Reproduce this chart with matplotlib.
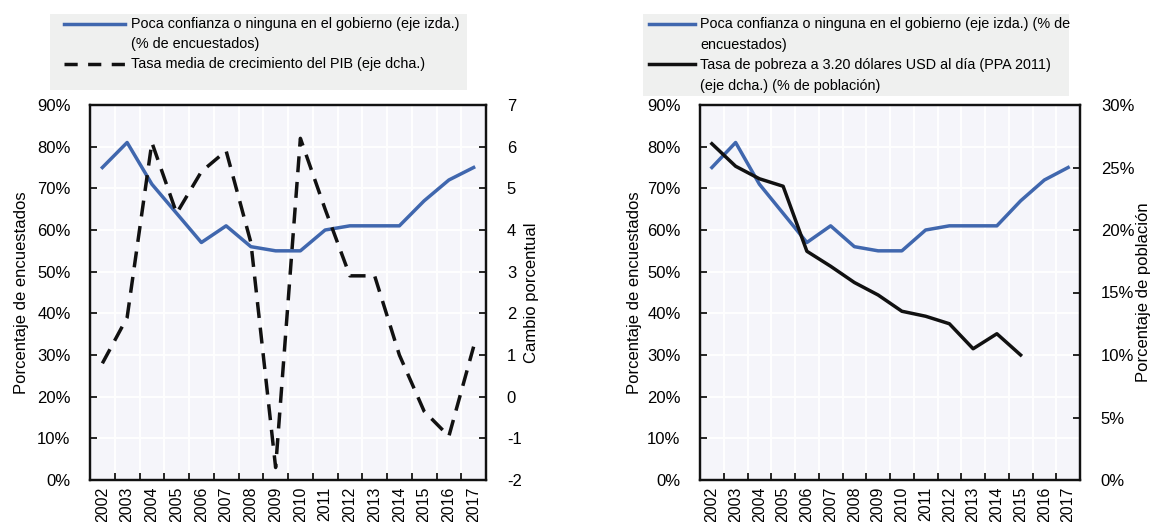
import numpy as np
import matplotlib
matplotlib.use("Agg")
import matplotlib.pyplot as plt
from matplotlib.lines import Line2D
from matplotlib.patches import Rectangle

years = [str(y) for y in range(2002, 2018)]
confianza = [75, 81, 71, 64, 57, 61, 56, 55, 55, 60, 61, 61, 61, 67, 72, 75]
pib = [0.8, 1.9, 6.1, 4.4, 5.4, 5.9, 3.7, -1.7, 6.2, 4.5, 2.9, 2.9, 1.0, -0.35, -0.95, 1.2]
pobreza = [26.9, 25.1, 24.1, 23.5, 18.3, 17.1, 15.8, 14.8, 13.5, 13.1, 12.5, 10.5, 11.7, 10.0]

left_ticks = [0, 10, 20, 30, 40, 50, 60, 70, 80, 90]
pib_ticks = [-2, -1, 0, 1, 2, 3, 4, 5, 6, 7]
pob_ticks = [0, 5, 10, 15, 20, 25, 30]

lbl_conf = "Poca confianza o ninguna en el gobierno (eje izda.)"
lbl_pib = "Tasa media de crecimiento del PIB (eje dcha.)"

plt.rcParams['font.family'] = ['Liberation Sans', 'DejaVu Sans']
plt.rcParams['font.size'] = 12
plt.rcParams['axes.unicode_minus'] = False

BLUE = '#4067AE'
BG = '#F5F5FA'
LEG = '#EFF0EF'
W, H = 1152, 522
LEGFS = 10.4
DASH = (4.6, 2.8)

fig = plt.figure(figsize=(W / 100, H / 100), dpi=100)


def fx(px):
    return px / W


def fy(py):
    return 1 - py / H


def setup(ax, ax2):
    x = np.arange(len(years))
    ax.set_facecolor(BG)
    ax.set_xlim(-0.5, len(years) - 0.5)
    ax.set_xticks(x)
    ax.set_xticklabels(years, rotation=90, fontsize=11.5)
    ax.set_xticks(x[:-1] + 0.5, minor=True)
    ax.tick_params(axis='x', which='major', length=0, pad=5)
    ax.tick_params(axis='x', which='minor', length=5, width=1.2, direction='in')
    ax.grid(True, which='minor', axis='x', color='white', lw=1.3)
    ax.grid(True, which='major', axis='y', color='white', lw=1.3)
    ax.set_axisbelow(True)
    ax.tick_params(axis='y', length=5, width=1.2, direction='in', pad=14)
    ax2.tick_params(axis='y', length=5, width=1.2, direction='in', pad=15)
    for a in (ax, ax2):
        for s in a.spines.values():
            s.set_linewidth(1.6)
            s.set_color('#111111')


def legend_box(x0, y0, x1, y1):
    fig.add_artist(Rectangle((fx(x0), fy(y1)), fx(x1 - x0), (y1 - y0) / H,
                             transform=fig.transFigure, facecolor=LEG, edgecolor='none'))


def legtext(px, py, s):
    fig.text(fx(px), fy(py), s, va='center', ha='left', fontsize=LEGFS)


# ---- left chart
ax = fig.add_axes([fx(90), fy(480), fx(396), 375 / H])
ax2 = ax.twinx()
setup(ax, ax2)
x = np.arange(len(years))
ax.plot(x, confianza, color=BLUE, lw=2.5)
ax2.plot(x, pib, color='#111111', lw=2.5, dashes=DASH)
ax.set_ylim(0, 90)
ax.set_yticks(left_ticks)
ax.set_yticklabels([f"{v}%" for v in left_ticks])
ax2.set_ylim(-2, 7)
ax2.set_yticks(pib_ticks)
ax.set_ylabel("Porcentaje de encuestados", labelpad=6)
ax2.set_ylabel("Cambio porcentual", labelpad=2)

legend_box(50, 14, 467, 90)
fig.add_artist(Line2D([fx(64), fx(125)], [fy(24), fy(24)], color=BLUE, lw=2.5, transform=fig.transFigure))
fig.add_artist(Line2D([fx(64), fx(125)], [fy(64), fy(64)], color='#111111', lw=2.5,
                      dashes=(3.8, 3.0), transform=fig.transFigure))
legtext(131, 24, lbl_conf)
legtext(131, 44, "(% de encuestados)")
legtext(131, 64, lbl_pib)

# ---- right chart
bx = fig.add_axes([fx(700), fy(480), fx(380), 375 / H])
bx2 = bx.twinx()
setup(bx, bx2)
bx.plot(x, confianza, color=BLUE, lw=2.5)
bx2.plot(x[:len(pobreza)], pobreza, color='#111111', lw=2.5)
bx.set_ylim(0, 90)
bx.set_yticks(left_ticks)
bx.set_yticklabels([f"{v}%" for v in left_ticks])
bx2.set_ylim(0, 30)
bx2.set_yticks(pob_ticks)
bx2.set_yticklabels([f"{v}%" for v in pob_ticks])
bx.set_ylabel("Porcentaje de encuestados", labelpad=4)
bx2.set_ylabel("Porcentaje de población", labelpad=1)

legend_box(643, 14, 1069, 96)
fig.add_artist(Line2D([fx(649), fx(695)], [fy(24), fy(24)], color=BLUE, lw=2.5, transform=fig.transFigure))
fig.add_artist(Line2D([fx(649), fx(695)], [fy(64), fy(64)], color='#111111', lw=2.5, transform=fig.transFigure))
legtext(700, 24, "Poca confianza o ninguna en el gobierno (eje izda.) (% de")
legtext(700, 45, "encuestados)")
legtext(700, 65, "Tasa de pobreza a 3.20 dólares USD al día (PPA 2011)")
legtext(700, 86, "(eje dcha.) (% de población)")

fig.savefig("out.png", dpi=100)
